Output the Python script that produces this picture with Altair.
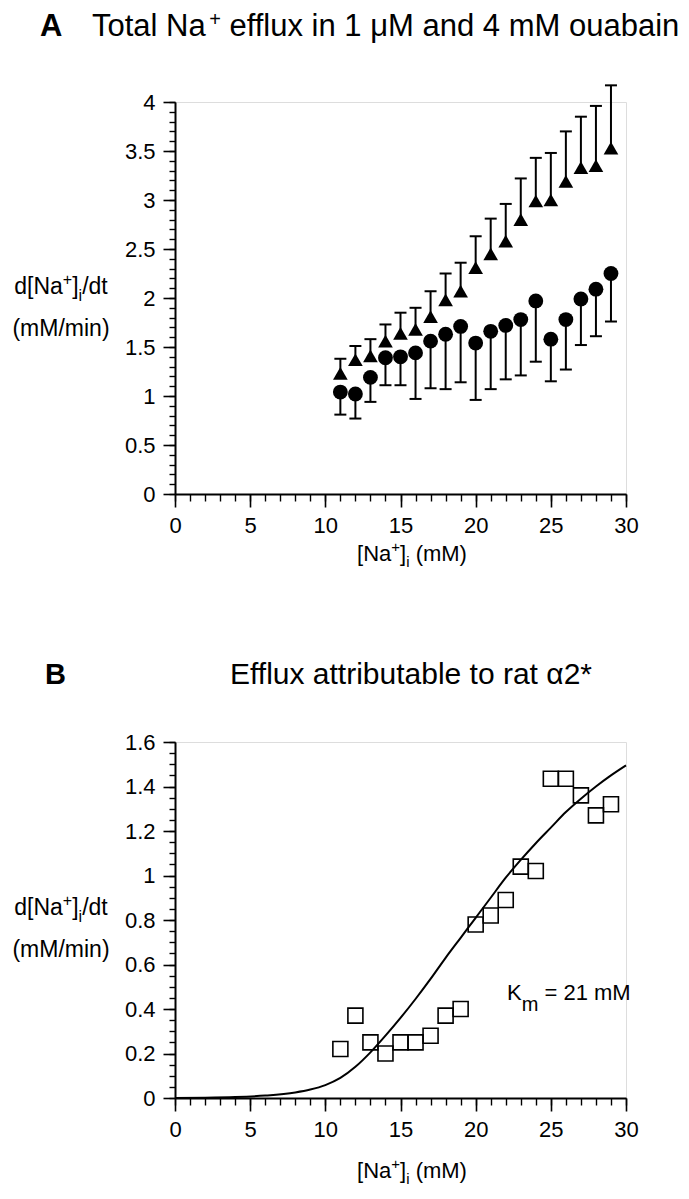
import altair as alt
import pandas as pd

FONT = "Liberation Sans"

# ---------------- Panel A data ----------------
na_a = list(range(11, 30))
tri_mean = [1.23, 1.37, 1.41, 1.56, 1.64, 1.68, 1.81, 1.98, 2.07, 2.31,
            2.45, 2.58, 2.80, 2.99, 3.00, 3.19, 3.33, 3.35, 3.53]
tri_upper = [1.38, 1.51, 1.58, 1.73, 1.85, 1.90, 2.07, 2.25, 2.36, 2.63,
             2.81, 2.96, 3.22, 3.43, 3.48, 3.70, 3.85, 3.96, 4.17]
cir_mean = [1.04, 1.02, 1.19, 1.39, 1.40, 1.44, 1.56, 1.63, 1.71, 1.54,
            1.66, 1.72, 1.78, 1.97, 1.58, 1.78, 1.99, 2.09, 2.25]
cir_lower = [0.81, 0.77, 0.94, 1.11, 1.11, 0.97, 1.08, 1.07, 1.14, 0.96,
             1.07, 1.17, 1.21, 1.35, 1.15, 1.27, 1.52, 1.61, 1.76]

# ---------------- Panel B data ----------------
na_b = list(range(11, 30))
alpha2_flux = [0.22, 0.37, 0.25, 0.20, 0.25, 0.25, 0.28, 0.37, 0.40, 0.78,
               0.82, 0.89, 1.04, 1.02, 1.435, 1.435, 1.36, 1.27, 1.32]
fit_x = [0, 2, 4, 6, 8, 9, 10, 11, 12, 13, 14, 15, 16, 17, 18, 19, 20,
         21, 22, 23, 24, 25, 26, 27, 28, 29, 30]
fit_y = [0, 0.001, 0.004, 0.011, 0.025, 0.038, 0.058, 0.09, 0.14, 0.205, 0.28,
         0.36, 0.445, 0.535, 0.63, 0.72, 0.81, 0.90, 0.99, 1.07, 1.145, 1.215,
         1.285, 1.345, 1.40, 1.45, 1.495]

# axis tick values
x_major = [0, 5, 10, 15, 20, 25, 30]
x_minor = list(range(0, 31))
ya_major = [0, 0.5, 1, 1.5, 2, 2.5, 3, 3.5, 4]
ya_minor = [round(i * 0.1, 2) for i in range(0, 41)]
yb_major = [0, 0.2, 0.4, 0.6, 0.8, 1.0, 1.2, 1.4, 1.6]
yb_minor = [round(i * 0.05, 3) for i in range(0, 33)]

W_A, H_A = 451, 392
W_B, H_B = 451, 356

# Arial / Liberation Sans advance widths (per 1000 em)
WID = {' ': 278, '(': 333, ')': 333, '*': 389, '+': 584, '.': 278, '/': 278,
       '=': 584, '[': 278, ']': 278, 'A': 667, 'B': 667, 'E': 667, 'K': 667,
       'M': 833, 'N': 722, 'T': 611, 'a': 556, 'b': 556, 'd': 556, 'e': 556,
       'f': 278, 'i': 222, 'l': 222, 'm': 833, 'n': 556, 'o': 556, 'r': 333,
       't': 278, 'u': 556, 'x': 500, 'μ': 576, 'α': 578}


def tw(s, size):
    return sum(WID.get(c, 556) for c in s) * size / 1000.0


def rich(parts, x, y, align="left"):
    """parts: list of (text, fontsize, dy, weight)."""
    total = sum(tw(t, s) for t, s, dy, w in parts)
    if align == "center":
        x0 = x - total / 2
    elif align == "right":
        x0 = x - total
    else:
        x0 = x
    out = []
    for t, s, dy, w in parts:
        stripped = t.lstrip(" ")
        lead = tw(t[: len(t) - len(stripped)], s)
        out.append(
            alt.Chart(alt.Data(values=[{"t": stripped}]))
            .mark_text(align="left", baseline="alphabetic", font=FONT,
                       fontSize=s, fontWeight=w, color="black")
            .encode(x=alt.value(x0 + lead), y=alt.value(y + dy), text="t:N")
        )
        x0 += tw(t, s)
    return out


def major_axis(vals, orient, tick):
    return alt.Axis(values=vals, orient=orient, format="~g", title=None,
                    grid=False, tickSize=tick, tickWidth=1.6, tickColor="black",
                    domainColor="black", domainWidth=2, labelFont=FONT,
                    labelFontSize=22, labelColor="black", labelPadding=8,
                    labelOverlap=False, labelFlush=False)


def minor_axis(vals, orient, tick):
    return alt.Axis(values=vals, orient=orient, title=None, grid=False,
                    labels=False, domain=False, tickSize=tick, tickWidth=1.4,
                    tickColor="black")


# ================= Panel A =================
dfa_t = pd.DataFrame({"na": na_a, "m": tri_mean, "e": tri_upper})
dfa_c = pd.DataFrame({"na": na_a, "m": cir_mean, "e": cir_lower})

xsA = alt.Scale(domain=[0, 30], nice=False, zero=False)
ysA = alt.Scale(domain=[0, 4], nice=False)

a_rule_t = alt.Chart(dfa_t).mark_rule(color="black", strokeWidth=2).encode(
    x=alt.X("na:Q", scale=xsA, axis=minor_axis(x_minor, "bottom", 7)),
    y=alt.Y("m:Q", scale=ysA, axis=minor_axis(ya_minor, "left", 6)),
    y2="e:Q")
a_rule_c = alt.Chart(dfa_c).mark_rule(color="black", strokeWidth=2).encode(
    x=alt.X("na:Q", scale=xsA, axis=None),
    y=alt.Y("m:Q", scale=ysA, axis=None), y2="e:Q")
a_cap_t = alt.Chart(dfa_t).mark_tick(orient="horizontal", size=12, thickness=2,
                                      color="black", opacity=1).encode(
    x=alt.X("na:Q", scale=xsA, axis=None), y=alt.Y("e:Q", scale=ysA, axis=None))
a_cap_c = alt.Chart(dfa_c).mark_tick(orient="horizontal", size=12, thickness=2,
                                      color="black", opacity=1).encode(
    x=alt.X("na:Q", scale=xsA, axis=None), y=alt.Y("e:Q", scale=ysA, axis=None))
a_tri = alt.Chart(dfa_t).mark_point(shape="triangle-up", filled=True, size=215,
                                     color="black", opacity=1).encode(
    x=alt.X("na:Q", scale=xsA, axis=major_axis(x_major, "bottom", 13)),
    y=alt.Y("m:Q", scale=ysA, axis=major_axis(ya_major, "left", 12)))
a_cir = alt.Chart(dfa_c).mark_point(shape="circle", filled=True, size=220,
                                     color="black", opacity=1).encode(
    x=alt.X("na:Q", scale=xsA, axis=None), y=alt.Y("m:Q", scale=ysA, axis=None))

a_texts = []
a_texts += rich([("A", 31, 0, "bold")], -135, -66)
a_texts += rich([("Total Na", 31, 0, "normal"), ("+", 20, -10, "normal"),
                 (" efflux in 1 μM and 4 mM ouabain", 31, 0, "normal")], -83, -66)
a_texts += rich([("d[Na", 23, 0, "normal"), ("+", 16, -9, "normal"),
                 ("]", 23, 0, "normal"), ("i", 16, 7, "normal"),
                 ("/dt", 23, 0, "normal")], -114, 192, "center")
a_texts += rich([("(mM/min)", 23, 0, "normal")], -114, 234, "center")
a_texts += rich([("[Na", 22, 0, "normal"), ("+", 15, -9, "normal"),
                 ("]", 22, 0, "normal"), ("i", 15, 6, "normal"),
                 (" (mM)", 22, 0, "normal")], 237, H_A + 67, "center")

chartA = alt.layer(a_rule_t, a_rule_c, a_cap_t, a_cap_c, a_tri, a_cir,
                   *a_texts).resolve_axis(x="independent", y="independent"
                   ).properties(width=W_A, height=H_A)

# ================= Panel B =================
dfb = pd.DataFrame({"na": na_b, "v": alpha2_flux})
dff = pd.DataFrame({"na": fit_x, "v": fit_y})

xsB = alt.Scale(domain=[0, 30], nice=False, zero=False)
ysB = alt.Scale(domain=[0, 1.6], nice=False)

b_line = alt.Chart(dff).mark_line(color="black", strokeWidth=2,
                                   interpolate="monotone").encode(
    x=alt.X("na:Q", scale=xsB, axis=minor_axis(x_minor, "bottom", 7)),
    y=alt.Y("v:Q", scale=ysB, axis=minor_axis(yb_minor, "left", 6)))
b_sq = alt.Chart(dfb).mark_point(shape="square", filled=False, size=225,
                                  color="black", strokeWidth=1.6, opacity=1).encode(
    x=alt.X("na:Q", scale=xsB, axis=major_axis(x_major, "bottom", 13)),
    y=alt.Y("v:Q", scale=ysB, axis=major_axis(yb_major, "left", 12)))

b_texts = []
b_texts += rich([("B", 29, 0, "bold")], -130, -58)
b_texts += rich([("Efflux attributable to rat α2*", 30, 0, "normal")], 55, -58)
b_texts += rich([("d[Na", 23, 0, "normal"), ("+", 16, -9, "normal"),
                 ("]", 23, 0, "normal"), ("i", 16, 7, "normal"),
                 ("/dt", 23, 0, "normal")], -114, 173, "center")
b_texts += rich([("(mM/min)", 23, 0, "normal")], -114, 215, "center")
b_texts += rich([("K", 22, 0, "normal"), ("m", 20, 11, "normal"),
                 (" = 21 mM", 22, 0, "normal")], 332, 258)
b_texts += rich([("[Na", 22, 0, "normal"), ("+", 15, -9, "normal"),
                 ("]", 22, 0, "normal"), ("i", 15, 6, "normal"),
                 (" (mM)", 22, 0, "normal")], 237, H_B + 80, "center")

chartB = alt.layer(b_line, b_sq, *b_texts).resolve_axis(
    x="independent", y="independent").properties(width=W_B, height=H_B)

chart = alt.vconcat(chartA, chartB, spacing=248, bounds="flush").properties(
    padding={"top": 1, "left": 3, "right": 0, "bottom": 4}
).configure_view(stroke=None).configure(background="white")

chart.save("out.html", embed_options={"renderer": "svg", "actions": False})
